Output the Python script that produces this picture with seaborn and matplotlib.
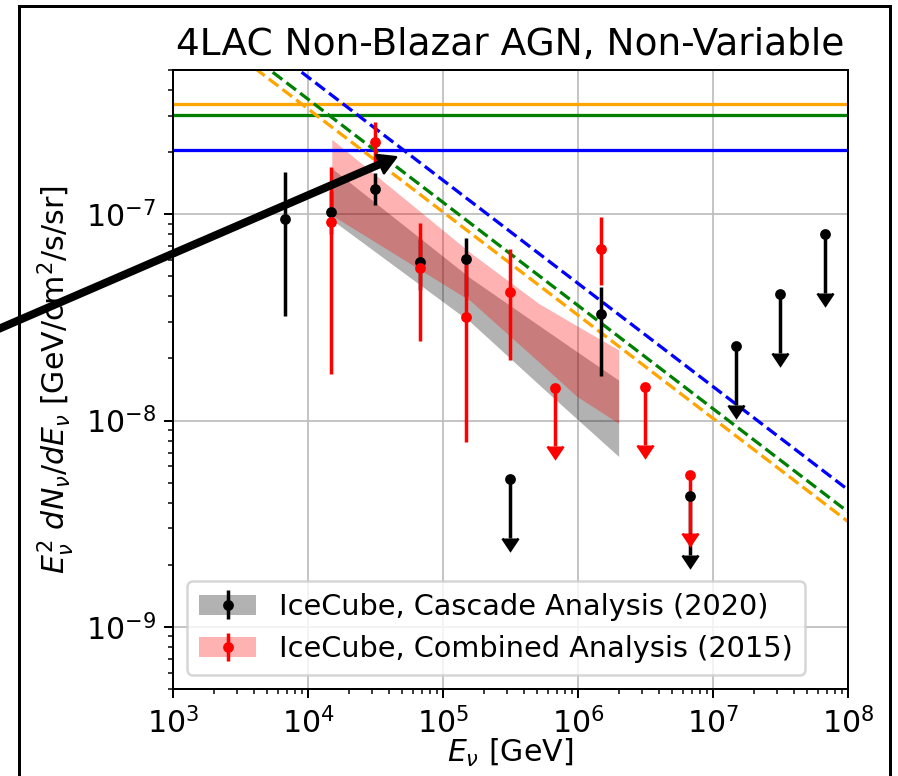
import matplotlib
matplotlib.use("Agg")
import matplotlib.pyplot as plt
from matplotlib.patches import Patch, Rectangle
from matplotlib.legend_handler import HandlerTuple
import seaborn as sns

# IceCube cascade analysis (2020): measured points
cas_E = [6.8e3, 1.47e4, 3.16e4, 6.8e4, 1.47e5, 1.47e6]
cas_F = [9.5e-8, 1.02e-7, 1.33e-7, 5.9e-8, 6.05e-8, 3.27e-8]
cas_lo = [3.2e-8, 8.0e-8, 1.11e-7, 4.3e-8, 4.0e-8, 1.64e-8]
cas_hi = [1.61e-7, 1.3e-7, 1.58e-7, 7.6e-8, 7.7e-8, 4.43e-8]
# cascade upper limits
cas_ul_E = [3.16e5, 6.8e6, 1.47e7, 3.16e7, 6.8e7]
cas_ul_F = [5.2e-9, 4.3e-9, 2.3e-8, 4.1e-8, 8.0e-8]

# IceCube combined analysis (2015): measured points
comb_E = [1.47e4, 3.16e4, 6.8e4, 1.47e5, 3.16e5, 1.47e6]
comb_F = [9.2e-8, 2.23e-7, 5.5e-8, 3.17e-8, 4.22e-8, 6.8e-8]
comb_lo = [1.69e-8, 1.8e-7, 2.42e-8, 7.9e-9, 1.97e-8, 4.52e-8]
comb_hi = [1.69e-7, 2.81e-7, 9.1e-8, 5.85e-8, 6.8e-8, 9.7e-8]
# combined upper limits
comb_ul_E = [6.8e5, 3.16e6, 6.8e6]
comb_ul_F = [1.44e-8, 1.46e-8, 5.47e-9]

# power-law fit bands
band_E = [1.5e4, 1.6e5, 5.1e5, 9.8e5, 2.0e6]
cas_band_lo = [9.4e-8, 3.0e-8, 1.5e-8, 1.02e-8, 6.7e-9]
cas_band_hi = [1.67e-7, 4.9e-8, 2.9e-8, 2.16e-8, 1.57e-8]
comb_band_lo = [9.9e-8, 3.8e-8, 1.93e-8, 1.31e-8, 9.7e-9]
comb_band_hi = [2.31e-7, 6.5e-8, 3.7e-8, 2.88e-8, 2.2e-8]

# source flux levels (solid) and sensitivity-like lines (dashed)
line_colors = ["orange", "green", "blue"]
flat_F = [3.42e-7, 3.04e-7, 2.05e-7]
slope_E = [1e3, 1e8]
slope_F = {
    "orange": [1.025e-6, 3.24e-9],
    "green": [1.142e-6, 3.61e-9],
    "blue": [1.461e-6, 4.62e-9],
}

arrow_tip = (4.49e4, 1.89e-7)

sns.set_style("ticks", rc={
    "axes.edgecolor": "black", "text.color": "black", "axes.labelcolor": "black",
    "xtick.color": "black", "ytick.color": "black", "grid.color": "0.74",
    "lines.solid_capstyle": "projecting",
})
plt.rcParams["font.family"] = ["DejaVu Sans"]

fig = plt.figure(figsize=(898 / 180, 776 / 180), dpi=180)
ax = fig.add_axes([173 / 898, 1 - 689 / 776, 675 / 898, 619 / 776])
ax.set_xscale("log")
ax.set_yscale("log")

ax.fill_between(band_E, cas_band_lo, cas_band_hi, color="k", alpha=0.3, lw=0)
ax.fill_between(band_E, comb_band_lo, comb_band_hi, color="r", alpha=0.3, lw=0)

for c, f in zip(line_colors, flat_F):
    ax.axhline(f, color=c, lw=1.3)
for c in line_colors:
    sns.lineplot(x=slope_E, y=slope_F[c], ax=ax, color=c, lw=1.3, linestyle="--")

arrow_frac = 0.48


def plot_series(E, F, lo, hi, ulE, ulF, col):
    yerr = [[f - l for f, l in zip(F, lo)], [h - f for f, h in zip(F, hi)]]
    eb = ax.errorbar(E, F, yerr=yerr, fmt="o", color=col, ms=3.3, elinewidth=1.4,
                     capsize=0)
    ul = ax.errorbar(ulE, ulF, yerr=[[arrow_frac * f for f in ulF], [0] * len(ulF)],
                     uplims=True, fmt="o", color=col, ms=3.3, elinewidth=1.4,
                     capsize=3.2)
    for cl in ul[1]:
        if cl.get_marker() == "_":
            cl.set_visible(False)
    return eb


eb_cas = plot_series(cas_E, cas_F, cas_lo, cas_hi, cas_ul_E, cas_ul_F, "k")
eb_comb = plot_series(comb_E, comb_F, comb_lo, comb_hi, comb_ul_E, comb_ul_F, "r")

ax.set_xlim(1e3, 1e8)
ax.set_ylim(5e-10, 5e-7)
ax.grid(True, which="major", lw=0.7)
ax.tick_params(labelsize=12)
ax.set_title("4LAC Non-Blazar AGN, Non-Variable", fontsize=15)
ax.set_xlabel(r"$E_\nu$ [GeV]", fontsize=12, labelpad=-1)
ax.set_ylabel(r"$E_\nu^2\ dN_\nu/dE_\nu$ [GeV/cm$^2$/s/sr]", fontsize=12)

ax.legend(
    handles=[(Patch(fc="k", alpha=0.3, lw=0), eb_cas),
             (Patch(fc="r", alpha=0.3, lw=0), eb_comb)],
    labels=["IceCube, Cascade Analysis (2020)", "IceCube, Combined Analysis (2015)"],
    handler_map={tuple: HandlerTuple()}, loc="lower left", fontsize=11.5,
)

ax.annotate("", xy=arrow_tip, xycoords="data", xytext=(-20, 776 - 337),
            textcoords="figure pixels", annotation_clip=False,
            arrowprops=dict(facecolor="black", edgecolor="black", width=2.2,
                            headwidth=8, headlength=7))

fig.add_artist(Rectangle((19 / 898, -0.1), 871 / 898, 1.1 - 6 / 776,
                         transform=fig.transFigure, fill=False, lw=1.2,
                         ec="black", clip_on=False))

fig.savefig("out.png", dpi=180)
